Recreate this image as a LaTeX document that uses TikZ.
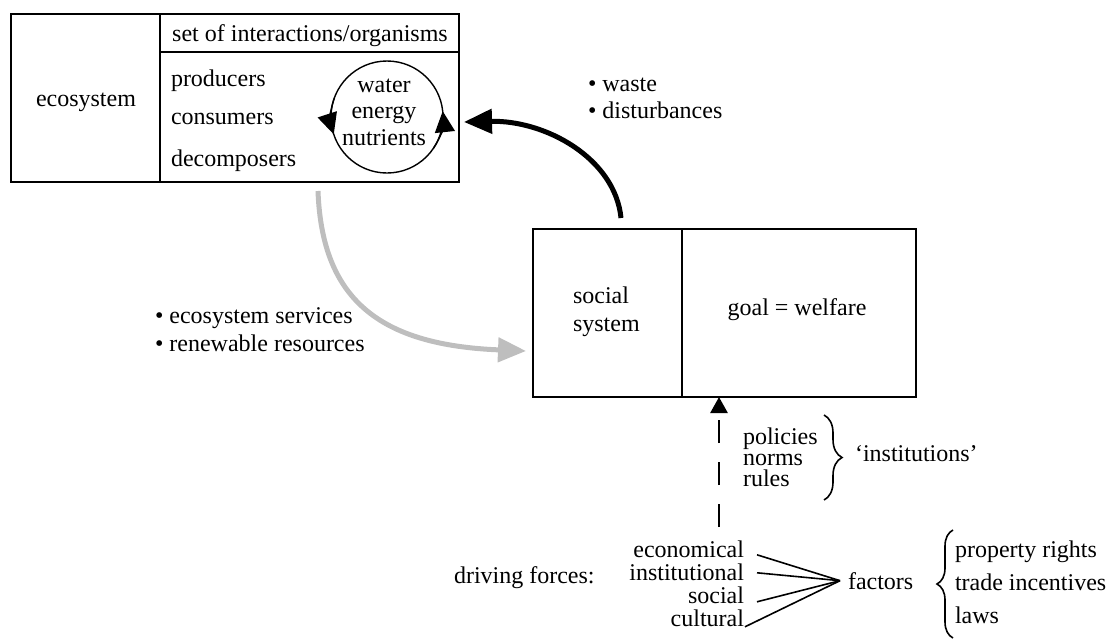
\documentclass[tikz,border=0pt]{standalone}
\usepackage{fontspec}
\setmainfont{Liberation Serif}
\usetikzlibrary{arrows.meta,decorations.pathreplacing,calc}
\definecolor{flowgray}{RGB}{190,190,190}
\begin{document}
\begin{tikzpicture}[x=0.5pt,y=-0.5pt,
  every node/.style={font=\fontsize{12}{14}\selectfont, inner sep=0pt, outer sep=0pt},
  tl/.style={anchor=base west},
  tc/.style={anchor=base},
  tr/.style={anchor=base east},
  boxline/.style={line width=0.9pt},
  thinline/.style={line width=0.8pt},
  bracestyle/.style={decorate, line width=0.8pt},
  blackflow/.style={line width=2.5pt, -{Triangle[length=14pt,width=12pt]}},
  grayflow/.style={line width=2.5pt, draw=flowgray, -{Triangle[length=14pt,width=12pt]}},
  dashflow/.style={line width=1.35pt, dash pattern=on 11.5pt off 9.5pt, -{Triangle[length=8pt,width=8.5pt]}},
  cyclearrow/.style={line width=0.7pt, -{Triangle[length=10.5pt,width=10pt]}}]
\useasboundingbox (0,0) rectangle (1107,638);

% ecosystem box
\node[draw, boxline, minimum width=224pt, minimum height=84pt] (eco) at (235,98) {};
\draw[boxline] ($(eco.north west)+(149,0)$) -- ($(eco.south west)+(149,0)$);
\draw[boxline] ($(eco.north west)+(149,38)$) -- ($(eco.north east)+(0,38)$);
\node[tc] (ecolbl) at (86,106) {ecosystem};
\node[tc] (setlbl) at (310,41) {set of interactions/organisms};
\node[tl] (prod) at (171,86) {producers};
\node[tl] (cons) at (171,124) {consumers};
\node[tl] (decomp) at (171,166) {decomposers};

% cycle
\node[draw, circle, line width=0.7pt, minimum size=56pt] (cyc) at (387,117) {};
\node[tc] (water) at (384,92) {water};
\node[tc] (energy) at (384,118) {energy};
\node[tc] (nutr) at (384,145) {nutrients};
\draw[cyclearrow] (cyc.center) ++(200:56) arc[start angle=200, end angle=162, radius=56];
\draw[cyclearrow] (cyc.center) ++(34:56) arc[start angle=34, end angle=-6, radius=56];

% social system box
\node[draw, boxline, minimum width=191.5pt, minimum height=84pt] (soc) at (724.5,313) {};
\draw[boxline] ($(soc.north west)+(149,0)$) -- ($(soc.south west)+(149,0)$);
\node[tl] (soc1) at (573,303) {social};
\node[tl] (soc2) at (573,331) {system};
\node[tc] (goal) at (797,315) {goal = welfare};

% flows
\draw[blackflow] ($(soc.north west)+(88,-11)$) .. controls ($(soc.north west)+(82,-71)$) and ($(eco.east)+(86,22)$) .. ($(eco.east)+(5,24)$);
\draw[grayflow] ($(eco.south west)+(307,9)$) .. controls ($(eco.south west)+(311,118)$) and ($(soc.west)+(-153,32)$) .. ($(soc.west)+(-7,38)$);

\node[tl] (w1) at (588,91) {• waste};
\node[tl] (w2) at (588,118) {• disturbances};
\node[tl] (es1) at (155,323) {• ecosystem services};
\node[tl] (es2) at (155,351) {• renewable resources};

% institutions
\coordinate (dst) at (719,527);
\draw[dashflow] (dst) -- (dst |- soc.south);
\node[tl] (pol) at (743,444) {policies};
\node[tl] (nor) at (743,465) {norms};
\node[tl] (rul) at (743,486) {rules};
\draw[bracestyle, decoration={brace, amplitude=9pt}] (824,415) -- (824,500);
\node[tl] (inst) at (855,461) {‘institutions’};

% driving forces
\node[tl] (df) at (454,583) {driving forces:};
\node[tr] (econ) at (744,557) {economical};
\node[tr] (instl) at (744,580) {institutional};
\node[tr] (socl) at (744,603) {social};
\node[tr] (cult) at (744,626) {cultural};
\node[tl] (fac) at (848,589) {factors};
\coordinate (fc) at ($(fac.west)+(-8,0)$);
\draw[thinline] ($(econ.east)+(13,6)$) -- (fc);
\draw[thinline] ($(instl.east)+(13,1)$) -- (fc);
\draw[thinline] ($(socl.east)+(13,7)$) -- (fc);
\draw[thinline] ($(cult.east)+(1,9)$) -- (fc);
\draw[bracestyle, decoration={brace, amplitude=8pt}] (953,638) -- (953,530);
\node[tl] (pr) at (955,557) {property rights};
\node[tl] (ti) at (955,590) {trade incentives};
\node[tl] (laws) at (955,623) {laws};
\end{tikzpicture}
\end{document}
